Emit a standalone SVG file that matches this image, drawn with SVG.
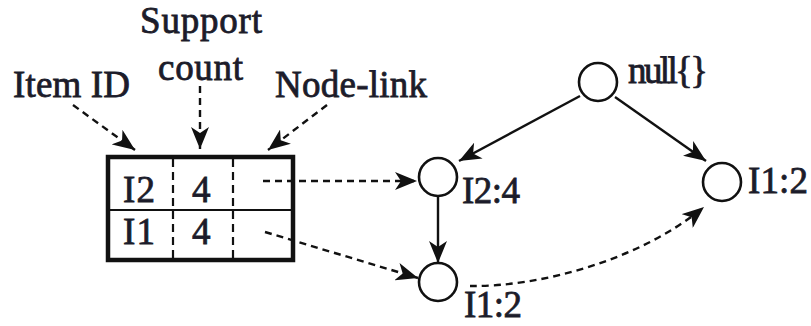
<svg xmlns="http://www.w3.org/2000/svg" width="811" height="326" viewBox="0 0 811 326">
  <style>
    text { font-family: "Liberation Serif", "Times New Roman", serif; font-size: 37px; fill: #1c1c2a; stroke: #1c1c2a; stroke-width: 0.8; }
    .node { fill: #fff; stroke: #111; stroke-width: 2.6; }
    .conn { fill: none; stroke: #111; stroke-width: 2.4; }
    .dash { stroke-dasharray: 7 5; }
    .sep { fill: none; stroke: #111; stroke-width: 2.2; stroke-dasharray: 8 5; }
  </style>
  <defs>
    <marker id="ah" viewBox="0 0 22 18" refX="22" refY="9" markerWidth="22" markerHeight="18" markerUnits="userSpaceOnUse" orient="auto">
      <path d="M0,0 L22,9 L0,18 L6,9 z" fill="#111"/>
    </marker>
  </defs>

  <!-- header table -->
  <g id="table">
    <rect x="108" y="157" width="185" height="103" fill="#fff" stroke="#111" stroke-width="4.5"/>
    <line x1="108" y1="210" x2="293" y2="210" stroke="#111" stroke-width="2.2"/>
    <line class="sep" x1="173" y1="159" x2="173" y2="258"/>
    <line class="sep" x1="233" y1="159" x2="233" y2="258"/>
    <text x="123" y="202" textLength="32">I2</text>
    <text x="192" y="202">4</text>
    <text x="123" y="244" textLength="32">I1</text>
    <text x="192" y="244">4</text>
  </g>

  <!-- column captions -->
  <g id="label-item-id"><text x="13" y="97" textLength="117">Item ID</text></g>
  <g id="label-support">
    <text x="140" y="33" textLength="122">Support</text>
    <text x="158" y="80" textLength="85">count</text>
  </g>
  <g id="label-node-link"><text x="275" y="97" textLength="152">Node-link</text></g>

  <!-- tree nodes -->
  <g id="root">
    <circle class="node" cx="598" cy="82" r="19"/>
    <text x="628" y="83" textLength="80">null{}</text>
  </g>
  <g id="n-i2">
    <circle class="node" cx="438" cy="177" r="19"/>
    <text x="462" y="203" textLength="58">I2:4</text>
  </g>
  <g id="n-i1-right">
    <circle class="node" cx="722" cy="182" r="19"/>
    <text x="748" y="193" textLength="60">I1:2</text>
  </g>
  <g id="n-i1-bottom">
    <circle class="node" cx="438" cy="282" r="19"/>
    <text x="464" y="317" font-size="35" textLength="58">I1:2</text>
  </g>

  <!-- connectors -->
  <g id="connectors">
    <line class="conn dash" x1="73" y1="105" x2="135" y2="150" marker-end="url(#ah)"/>
    <line class="conn dash" x1="200" y1="86" x2="200" y2="149" marker-end="url(#ah)"/>
    <line class="conn dash" x1="327" y1="105" x2="268" y2="150" marker-end="url(#ah)"/>

    <line class="conn dash" x1="263" y1="181" x2="417" y2="181" marker-end="url(#ah)"/>
    <line class="conn dash" x1="265" y1="232" x2="418" y2="278" marker-end="url(#ah)"/>

    <line class="conn" x1="580" y1="96" x2="459" y2="161" marker-end="url(#ah)"/>
    <line class="conn" x1="615" y1="97" x2="706" y2="161" marker-end="url(#ah)"/>
    <line class="conn" x1="438" y1="196" x2="438" y2="263" marker-end="url(#ah)"/>
    <path class="conn dash" d="M470,286 C540,287 640,260 704,207" marker-end="url(#ah)"/>
  </g>
</svg>
